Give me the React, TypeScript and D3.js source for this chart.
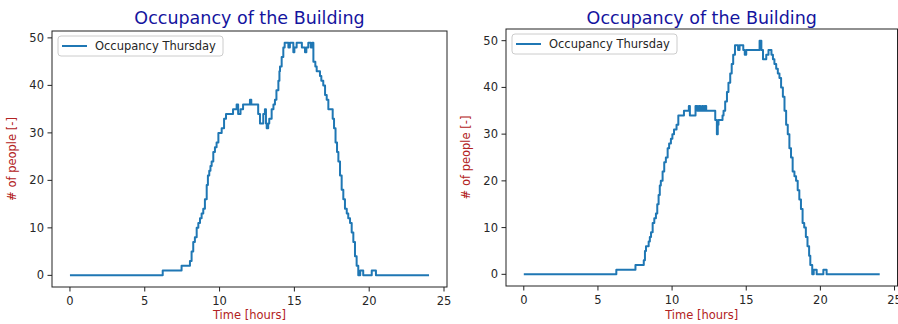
import React from 'react';
import * as d3 from 'd3';

// Thursday occupancy, first panel (hour of day -> people)
const hoursA = [0, 6.2, 7.46, 8.02, 8.13, 8.24, 8.35, 8.47, 8.58, 8.69, 8.8, 8.91, 9.02, 9.14, 9.22, 9.31, 9.39, 9.47, 9.58, 9.69, 9.8, 9.92, 10.14, 10.3, 10.43, 10.57, 10.9, 11.14, 11.24, 11.4, 11.57, 11.8, 12.03, 12.12, 12.25, 12.36, 12.58, 12.7, 12.92, 13.03, 13.1, 13.15, 13.25, 13.32, 13.48, 13.6, 13.7, 13.8, 13.93, 14.0, 14.04, 14.15, 14.26, 14.35, 14.6, 14.7, 14.93, 15.0, 15.15, 15.5, 15.71, 15.8, 15.93, 16.1, 16.2, 16.27, 16.4, 16.49, 16.6, 16.71, 16.8, 16.93, 17.05, 17.16, 17.27, 17.56, 17.65, 17.75, 17.85, 17.94, 18.05, 18.16, 18.27, 18.38, 18.5, 18.6, 18.72, 18.83, 18.94, 19.05, 19.16, 19.27, 19.4, 19.6, 20.17, 20.45, 24];
const countA = [0, 1, 2, 3, 5, 7, 8, 10, 11, 12, 13, 14, 16, 19, 21, 22, 23, 24, 26, 27, 28, 30, 31, 33, 34, 34, 35, 36, 34, 35, 36, 36, 37, 36, 36, 36, 34, 32, 34, 35, 32, 31, 32, 33, 35, 36, 37, 39, 41, 43, 44, 46, 48, 49, 48, 49, 47, 48, 49, 48, 47, 48, 49, 48, 49, 45, 44, 43, 43, 42, 41, 40, 38, 37, 35, 33, 31, 28, 26, 24, 21, 18, 16, 14, 13, 12, 11, 9, 7, 4, 2, 0, 1, 0, 1, 0, 0];

// Thursday occupancy, second panel
const hoursB = [0, 6.24, 7.53, 8.09, 8.17, 8.24, 8.42, 8.5, 8.58, 8.69, 8.8, 8.91, 9.0, 9.09, 9.17, 9.24, 9.36, 9.47, 9.58, 9.7, 9.8, 9.92, 10.02, 10.13, 10.3, 10.42, 10.8, 11.02, 11.13, 11.2, 11.35, 11.58, 11.7, 11.8, 11.9, 12.02, 12.1, 12.2, 12.3, 12.47, 12.91, 13.02, 13.08, 13.13, 13.4, 13.47, 13.58, 13.7, 13.8, 13.92, 14.02, 14.12, 14.24, 14.45, 14.55, 14.8, 14.9, 15.0, 15.9, 16.02, 16.13, 16.35, 16.5, 16.7, 16.8, 16.9, 17.02, 17.13, 17.24, 17.35, 17.47, 17.58, 17.69, 17.8, 17.91, 18.02, 18.13, 18.25, 18.36, 18.47, 18.58, 18.69, 18.8, 18.91, 19.02, 19.13, 19.24, 19.32, 19.45, 19.55, 19.75, 20.2, 20.42, 24];
const countB = [0, 1, 2, 3, 5, 6, 7, 8, 9, 11, 12, 13, 15, 17, 19, 20, 22, 24, 25, 27, 28, 29, 30, 31, 32, 34, 35, 35, 36, 34, 34, 36, 35, 36, 35, 36, 35, 36, 35, 35, 33, 30, 32, 33, 34, 35, 37, 39, 41, 43, 45, 47, 49, 48, 49, 48, 47, 48, 50, 48, 46, 47, 48, 47, 46, 45, 44, 43, 42, 40, 38, 35, 32, 30, 27, 25, 22, 21, 20, 18, 16, 14, 11, 10, 8, 6, 4, 2, 0, 1, 0, 1, 0, 0];

const xTickValues = [0, 5, 10, 15, 20, 25];
const yTickValues = [0, 10, 20, 30, 40, 50];
const titleText = 'Occupancy of the Building';
const legendText = 'Occupancy Thursday';
const xLabelText = 'Time [hours]';
const yLabelText = '# of people [-]';

const FONT = '"DejaVu Sans", sans-serif';
const LINE = '#1f77b4';
const LABEL_RED = '#b22222';

const pad = (lo, hi) => {
  const m = (hi - lo) * 0.05;
  return [lo - m, hi + m];
};

function Panel({ hours, counts, left, right, top, bottom }) {
  const pts = hours.map((h, i) => [h, counts[i]]);
  const x = d3.scaleLinear().domain(pad(d3.min(hours), d3.max(hours))).range([left, right]);
  const y = d3.scaleLinear().domain(pad(d3.min(counts), d3.max(counts))).range([bottom, top]);
  const line = d3.line().x(d => x(d[0])).y(d => y(d[1])).curve(d3.curveStepAfter);
  const cx = (left + right) / 2;

  return (
    <g fontFamily={FONT}>
      <text x={cx} y={24} textAnchor="middle" fontSize={17.5} fill="#14149e">{titleText}</text>
      <path d={line(pts)} fill="none" stroke={LINE} strokeWidth={2} strokeLinejoin="round" />
      <rect x={left} y={top} width={right - left} height={bottom - top} fill="none" stroke="#222" strokeWidth={1} />
      {xTickValues.map(t => (
        <g key={'x' + t}>
          <line x1={x(t)} x2={x(t)} y1={bottom} y2={bottom + 4.5} stroke="#222" />
          <text x={x(t)} y={bottom + 18} textAnchor="middle" fontSize={11.5} fill="#262626">{t}</text>
        </g>
      ))}
      {yTickValues.map(t => (
        <g key={'y' + t}>
          <line x1={left - 4.5} x2={left} y1={y(t)} y2={y(t)} stroke="#222" />
          <text x={left - 8} y={y(t) + 4} textAnchor="end" fontSize={11.5} fill="#262626">{t}</text>
        </g>
      ))}
      <text x={cx} y={319} textAnchor="middle" fontSize={11.5} fill={LABEL_RED}>{xLabelText}</text>
      <text transform={`translate(${left - 36},${(top + bottom) / 2}) rotate(-90)`} textAnchor="middle" fontSize={11.5} fill={LABEL_RED}>{yLabelText}</text>
      <g>
        <rect x={left + 6} y={top + 5} width={165} height={20} rx={3} fill="#fff" fillOpacity={0.8} stroke="#cccccc" />
        <line x1={left + 10} x2={left + 35} y1={top + 15} y2={top + 15} stroke={LINE} strokeWidth={2} />
        <text x={left + 43} y={top + 19} fontSize={11.5} fill="#262626">{legendText}</text>
      </g>
    </g>
  );
}

export default function App() {
  return (
    <svg width={898} height={324} style={{ position: 'absolute', left: 0, top: 0, background: '#fff' }}>
      <rect width={898} height={324} fill="#fff" />
      <Panel hours={hoursA} counts={countA} left={52} right={447} top={31} bottom={287} />
      <Panel hours={hoursB} counts={countB} left={506} right={897.5} top={29} bottom={286} />
    </svg>
  );
}
